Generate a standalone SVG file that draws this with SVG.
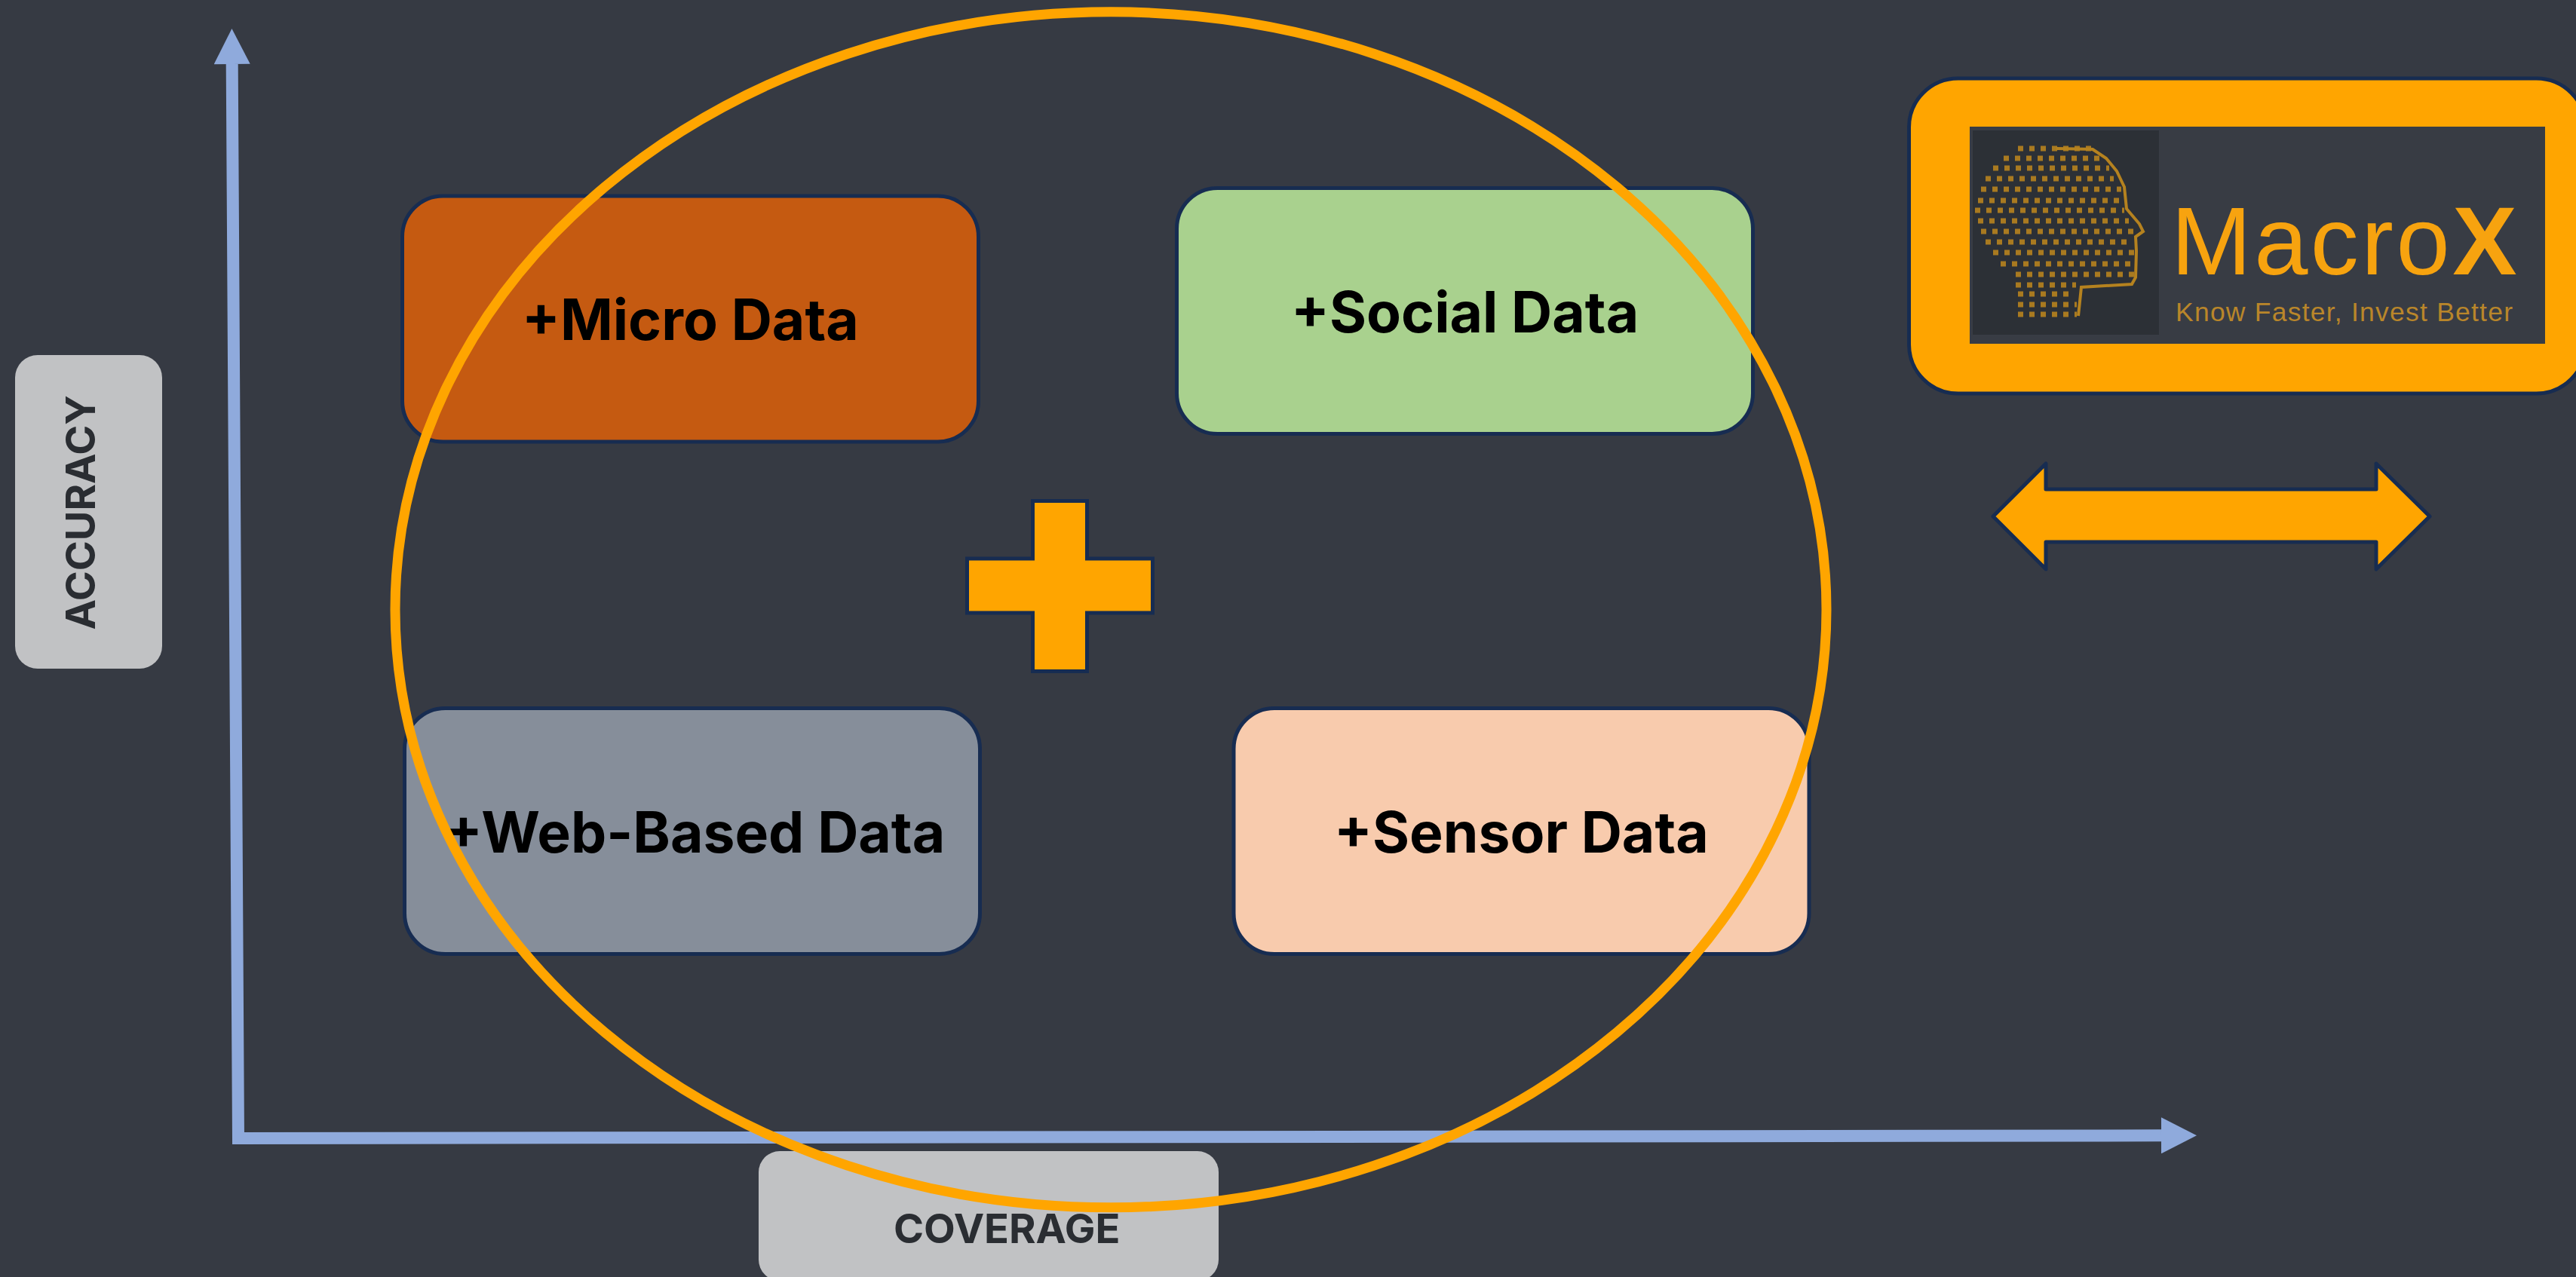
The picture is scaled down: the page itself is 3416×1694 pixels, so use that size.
<svg xmlns="http://www.w3.org/2000/svg" width="3416" height="1694" viewBox="0 0 3416 1694">
<style>
.box{stroke:#172C51;stroke-width:5}
.lbl{font-family:"Inter","Liberation Sans",sans-serif;font-weight:700;font-size:75px;fill:#000}
.axl{font-family:"Inter","Liberation Sans",sans-serif;font-weight:700;font-size:54.2px;fill:#2A2D32}
.gray{fill:#C1C2C4}
.org{fill:#FFA500;stroke:#172C51;stroke-width:5}
.dots line{stroke:#A97A20;stroke-width:7;stroke-dasharray:7 8}
.logo{font-family:"Liberation Sans",Arial,sans-serif}
</style>
<defs>
<marker id="head" markerUnits="userSpaceOnUse" markerWidth="48" markerHeight="48" viewBox="0 0 47 48" refX="0" refY="24" orient="auto-start-reverse">
<path d="M0 0L47 24L0 48Z" fill="#8FAADC"/>
</marker>
</defs>
<rect width="3416" height="1694" fill="#363A43"/>
<g id="connectors">
<path d="M307.7 85L316 1510L2866 1506.3" fill="none" stroke="#8FAADC" stroke-width="16" stroke-miterlimit="10" marker-start="url(#head)" marker-end="url(#head)"/>
</g>
<g id="node-accuracy">
<rect class="gray" x="20" y="471" width="195" height="416" rx="30"/>
<text class="axl" transform="translate(126 835.5) rotate(-90)">ACCURACY</text>
</g>
<g id="node-coverage">
<rect class="gray" x="1006" y="1527" width="610" height="172" rx="28"/>
<text class="axl" x="1185" y="1649">COVERAGE</text>
</g>
<g id="node-micro">
<rect class="box" x="533.5" y="260" width="764" height="326" rx="54" fill="#C55A11"/>
<text class="lbl" x="692" y="451">+Micro Data</text>
</g>
<g id="node-social">
<rect class="box" x="1560.5" y="249.5" width="764" height="326" rx="54" fill="#A9D18E"/>
<text class="lbl" x="1712" y="441">+Social Data</text>
</g>
<g id="node-web">
<rect class="box" x="536.5" y="939.5" width="763" height="326" rx="54" fill="#868E9A"/>
<text class="lbl" x="589" y="1131">+Web-Based Data</text>
</g>
<g id="node-sensor">
<rect class="box" x="1636" y="939.5" width="763" height="326" rx="54" fill="#F8CBAD"/>
<text class="lbl" x="1769" y="1131">+Sensor Data</text>
</g>
<g id="node-plus">
<path class="org" d="M1369.5 664.5H1441.5V741H1528.5V813H1441.5V890.5H1369.5V813H1282.5V741H1369.5Z"/>
</g>
<g id="node-double-arrow">
<path class="org" stroke-linejoin="round" d="M2643 685L2713 615V649H3151V615L3222 685L3151 755V719H2713V755Z"/>
</g>
<g id="node-macrox">
<rect class="org" x="2531.5" y="104" width="897" height="418" rx="65"/>
<rect x="2612" y="168" width="763" height="288" fill="#383C44"/>
<rect x="2616" y="173" width="247" height="271" fill="#2C3036"/>
<g class="dots">
<line x1="2676" x2="2773" y1="197" y2="197"/>
<line x1="2657" x2="2787" y1="210" y2="210"/>
<line x1="2643" x2="2797" y1="223" y2="223"/>
<line x1="2633" x2="2803" y1="237" y2="237"/>
<line x1="2627" x2="2813" y1="251" y2="251"/>
<line x1="2623" x2="2812" y1="266" y2="266"/>
<line x1="2619" x2="2817" y1="279" y2="279"/>
<line x1="2623" x2="2823" y1="293" y2="293"/>
<line x1="2627" x2="2837" y1="307" y2="307"/>
<line x1="2633" x2="2827" y1="321" y2="321"/>
<line x1="2643" x2="2830" y1="335" y2="335"/>
<line x1="2653" x2="2830" y1="350" y2="350"/>
<line x1="2673" x2="2830" y1="364" y2="364"/>
<line x1="2673" x2="2753" y1="378" y2="378"/>
<line x1="2676" x2="2750" y1="390" y2="390"/>
<line x1="2676" x2="2754" y1="404" y2="404"/>
<line x1="2676" x2="2754" y1="417" y2="417"/>
</g>
<path d="M2727 197L2775 198L2793 210L2807 227L2817 248L2820 277L2837 297L2842 307L2832 314L2833 333L2832 368L2827 377L2760 381L2756 419" fill="none" stroke="#B5821F" stroke-width="4"/>
<text class="logo" x="2879" y="363.5" font-size="128" fill="#F7A30F" letter-spacing="3.5"><tspan>Macro</tspan><tspan font-weight="700" letter-spacing="0">X</tspan></text>
<text class="logo" x="2885" y="426" font-size="35.5" fill="#B9862A" textLength="447" lengthAdjust="spacing">Know Faster, Invest Better</text>
</g>
<g id="node-ellipse">
<ellipse cx="1473" cy="808.8" rx="949" ry="793" fill="none" stroke="#FFA500" stroke-width="13"/>
</g>
</svg>
